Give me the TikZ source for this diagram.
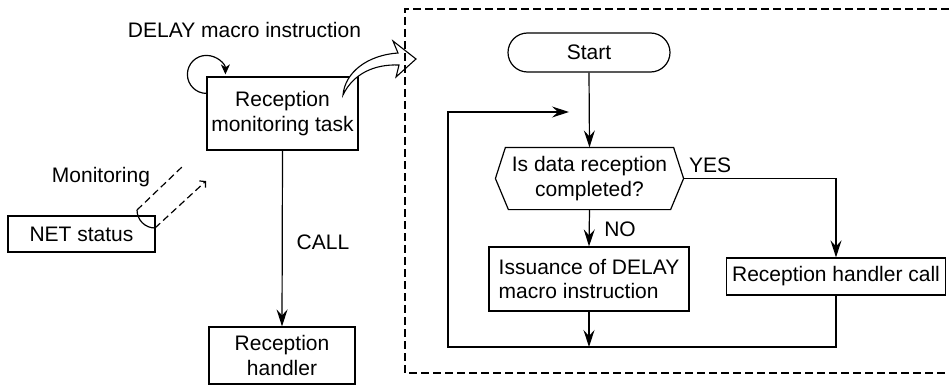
\documentclass[tikz,border=0pt]{standalone}
\usepackage{fontspec}
\setmainfont{Liberation Sans}
\usetikzlibrary{arrows.meta,shapes.misc}

\begin{document}
\begin{tikzpicture}[x=1pt,y=1pt,line width=1.2pt,font=\fontsize{21}{24.5}\selectfont]
  \tikzstyle{box}=[draw,inner sep=2pt,align=center]
  \tikzstyle{flow}=[-{Stealth[length=17pt,width=11pt,inset=6pt]}]
  \useasboundingbox (0,0) rectangle (949,-385);

  \node (L_delay) at (244.5,-30) {DELAY macro instruction};
  \node[box,minimum width=151,minimum height=73] (N_task) at (282.5,-113.5) {Reception\\monitoring task};
  \node[box,minimum width=146,minimum height=57] (N_handler) at (282,-355.5) {Reception\\handler};
  \node[box,minimum width=147,minimum height=36] (N_net) at (81.5,-234) {NET status};
  \node (L_mon) at (101,-177) {Monitoring};
  \node (L_call) at (323,-242) {CALL};
  \draw[flow] (N_task.south) -- (N_handler.north);
  \draw[-{Stealth[length=10pt,width=9pt,inset=3pt]}] ([yshift=-17pt]N_task.north west) arc[start angle=270,end angle=0,radius=19];

  \draw[dash pattern=on 7pt off 4pt] (137,-210) -- (183,-166);
  \draw[dash pattern=on 7pt off 4pt,-{Straight Barb[length=4pt,width=9pt]}] (155,-228) -- (206,-181);
  \draw (137,-210) arc[start angle=180,end angle=270,radius=18];

  \draw[fill=white,line width=1.1pt] (343,-95) .. controls (345,-72) and (368,-55) .. (398,-53)
    -- (393,-41) -- (416,-59) -- (396,-77) -- (399,-65)
    .. controls (374,-64) and (353,-74) .. (343,-95) -- cycle;

  \draw[dash pattern=on 8pt off 4pt] (949,-9) -| (405,-373) -- (949,-373);

  \node[draw,rounded rectangle,minimum width=166,minimum height=39,inner sep=2pt] (F_start) at (589,-52.5) {Start};
  \node[align=center,minimum width=167,minimum height=61,inner sep=0pt] (F_check) at (589.5,-178.5) {Is data reception\\completed?};
  \draw (F_check.north west) -- (F_check.north east) -- ([xshift=10pt]F_check.east)
    -- ([xshift=-3pt]F_check.south east) -- ([xshift=3pt]F_check.south west)
    -- ([xshift=-10pt]F_check.west) -- cycle;
  \node[box,align=left,minimum width=200,minimum height=64] (F_issue) at (589,-279) {Issuance of DELAY\\macro instruction};
  \node[box,minimum width=219,minimum height=37] (F_call) at (836,-276.5) {Reception handler call};
  \node (L_yes) at (710,-165) {YES};
  \node (L_no) at (620,-229) {NO};
  \coordinate (C_corner) at (448,-347);
  \coordinate (C_back) at (569,-112);

  \draw[flow] (F_start.south) -- (F_check.north);
  \draw[flow] (F_check.south) -- (F_issue.north);
  \draw[flow] ([xshift=10pt]F_check.east) -| (F_call.north);
  \draw[flow] (F_issue.south) -- (F_issue.south |- C_corner);
  \draw[flow] (F_call.south) |- (C_corner) |- (C_back);
\end{tikzpicture}
\end{document}
